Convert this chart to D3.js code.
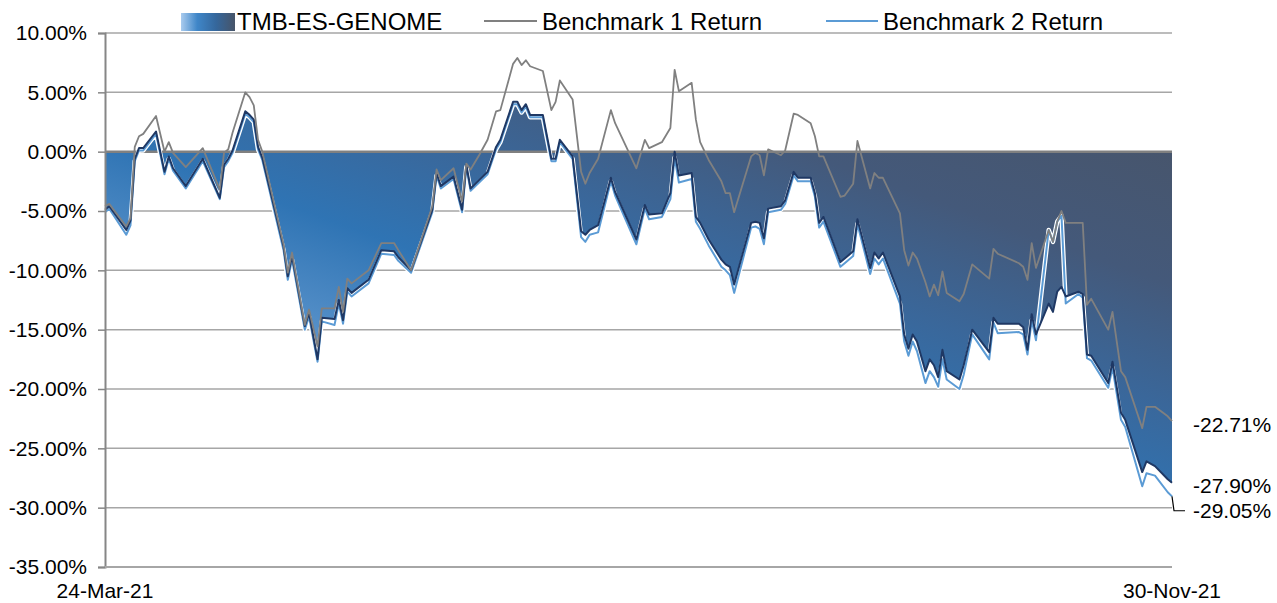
<!DOCTYPE html>
<html><head><meta charset="utf-8">
<script src="https://cdn.jsdelivr.net/npm/d3@7"></script>
<style>
body{margin:0;background:#fff}
svg{display:block}
text{font-family:"Liberation Sans",Arial,sans-serif;fill:#000}
</style>
</head><body>
<svg id="chart" width="1277" height="603"></svg>
<script>
const dates = ["2021-03-24","2021-03-25","2021-03-29","2021-03-30","2021-03-31","2021-04-01","2021-04-02","2021-04-05","2021-04-07","2021-04-08",
"2021-04-09","2021-04-12","2021-04-16","2021-04-20","2021-04-21","2021-04-22","2021-04-23","2021-04-26","2021-04-27","2021-04-28",
"2021-04-29","2021-04-30","2021-05-05","2021-05-06","2021-05-07","2021-05-10","2021-05-11","2021-05-13","2021-05-14","2021-05-17",
"2021-05-18","2021-05-19","2021-05-20","2021-05-21","2021-05-25","2021-05-28","2021-05-31","2021-06-01","2021-06-04","2021-06-09",
"2021-06-10","2021-06-11","2021-06-14","2021-06-16","2021-06-17","2021-06-18","2021-06-20","2021-06-22","2021-06-24","2021-06-25",
"2021-06-28","2021-06-29","2021-06-30","2021-07-01","2021-07-02","2021-07-05","2021-07-07","2021-07-08","2021-07-09","2021-07-12",
"2021-07-14","2021-07-15","2021-07-16","2021-07-18","2021-07-21","2021-07-22","2021-07-27","2021-07-29","2021-07-30","2021-08-02",
"2021-08-04","2021-08-05","2021-08-06","2021-08-09","2021-08-10","2021-08-11","2021-08-13","2021-08-16","2021-08-17","2021-08-18",
"2021-08-19","2021-08-23","2021-08-24","2021-08-25","2021-08-26","2021-08-27","2021-08-30","2021-08-31","2021-09-02","2021-09-03",
"2021-09-06","2021-09-07","2021-09-08","2021-09-09","2021-09-13","2021-09-14","2021-09-16","2021-09-17","2021-09-20","2021-09-21",
"2021-09-22","2021-09-23","2021-09-27","2021-09-28","2021-09-29","2021-09-30","2021-10-01","2021-10-03","2021-10-04","2021-10-05",
"2021-10-06","2021-10-07","2021-10-08","2021-10-11","2021-10-12","2021-10-14","2021-10-18","2021-10-19","2021-10-20","2021-10-25",
"2021-10-26","2021-10-27","2021-10-28","2021-10-29","2021-11-01","2021-11-02","2021-11-03","2021-11-04","2021-11-05","2021-11-08",
"2021-11-09","2021-11-10","2021-11-11","2021-11-15","2021-11-16","2021-11-18","2021-11-19","2021-11-23","2021-11-24","2021-11-26",
"2021-11-29","2021-11-30"];

const fund = [-4.9,-4.6,-6.6,-5.8,-0.6,0.3,0.3,1.7,-1.7,-0.4,
-1.4,-2.9,-0.6,-3.9,-1.1,-0.6,0.1,3.4,3.1,2.7,
0.4,-0.5,-8.0,-10.5,-8.8,-14.7,-13.6,-17.5,-14.0,-14.1,
-12.5,-14.2,-11.5,-11.9,-10.8,-8.3,-8.4,-8.9,-10.0,-4.9,
-1.8,-2.9,-2.1,-4.9,-1.1,-3.1,-2.4,-1.7,0.4,1.0,
4.2,4.2,3.5,4.0,3.1,3.1,-0.6,-0.6,1.0,-0.4,
-6.7,-7.0,-6.6,-6.2,-2.2,-3.4,-7.4,-4.5,-5.3,-5.2,
-3.5,0.0,-2.0,-1.8,-5.5,-6.0,-7.4,-9.1,-9.5,-9.7,
-11.2,-6.0,-5.9,-6.0,-7.3,-4.8,-4.6,-4.1,-1.7,-2.2,
-2.2,-3.5,-6.0,-5.5,-9.3,-9.0,-8.4,-5.7,-9.8,-8.5,
-9.0,-8.5,-12.2,-15.4,-16.6,-15.4,-16.0,-18.5,-17.5,-18.0,
-19.0,-16.7,-18.5,-19.2,-18.0,-15.0,-16.9,-14.0,-14.5,-14.5,
-14.8,-16.7,-13.7,-15.4,-12.8,-13.5,-11.8,-11.4,-12.2,-11.8,
-12.0,-17.1,-17.2,-19.5,-17.7,-22.0,-22.6,-27.0,-26.1,-26.5,
-27.6,-27.90];

const bench1 = [-4.6,-4.4,-6.3,-5.6,0.4,1.3,1.5,3.0,0.0,0.8,
-0.1,-1.3,0.3,-3.2,-0.1,0.2,1.6,5.0,4.6,3.9,
1.0,0.0,-7.8,-10.2,-8.5,-14.6,-13.3,-16.4,-13.2,-13.2,
-11.4,-13.5,-10.7,-11.1,-10.0,-7.7,-7.7,-8.3,-10.0,-4.6,
-1.5,-2.4,-1.4,-4.2,-1.0,-1.5,-0.3,1.0,3.4,3.5,
7.4,7.9,7.3,7.7,7.2,6.8,3.5,4.2,6.0,4.4,
-1.7,-2.7,-1.8,-0.6,3.5,2.4,-1.4,1.0,0.3,0.8,
2.0,6.9,5.1,5.8,2.7,0.8,-0.7,-2.5,-3.5,-3.5,
-5.1,-0.4,-0.1,-0.3,-2.0,0.2,-0.3,0.1,3.2,3.1,
2.4,1.3,-0.4,-0.4,-3.8,-3.7,-2.7,0.9,-3.1,-1.8,
-2.2,-2.2,-5.2,-8.3,-9.6,-8.5,-9.0,-11.0,-12.2,-11.2,
-12.1,-10.1,-11.9,-12.6,-12.0,-9.5,-10.7,-8.2,-8.6,-9.4,
-9.7,-10.8,-7.7,-9.8,-6.6,-7.6,-5.9,-5.0,-6.0,-6.0,
-6.0,-12.9,-12.4,-15.0,-13.5,-18.5,-19.0,-23.3,-21.5,-21.5,
-22.3,-22.71];

const bench2 = [-5.1,-4.8,-7.0,-6.2,-0.8,0.1,0.1,1.5,-1.9,-0.6,
-1.6,-3.1,-0.8,-4.0,-1.3,-0.8,-0.1,3.2,2.9,2.5,
0.2,-0.7,-8.3,-10.8,-9.1,-15.0,-13.9,-17.7,-14.3,-14.6,
-12.8,-14.5,-11.8,-12.2,-11.1,-8.6,-8.7,-9.2,-10.2,-5.1,
-2.0,-3.1,-2.3,-5.1,-1.3,-3.3,-2.6,-1.9,0.2,0.8,
4.0,4.0,3.3,3.8,2.9,2.9,-0.8,-0.8,0.8,-0.6,
-7.2,-7.6,-7.0,-6.8,-2.5,-3.7,-7.8,-4.8,-5.7,-5.5,
-4.0,-0.5,-2.6,-2.3,-5.9,-6.5,-7.9,-9.7,-10.0,-10.4,
-11.9,-6.4,-6.3,-6.5,-7.8,-5.1,-4.9,-4.4,-2.0,-2.5,
-2.5,-3.8,-6.4,-5.9,-9.7,-9.4,-8.8,-6.1,-10.3,-9.0,
-9.5,-9.0,-12.8,-16.0,-17.2,-16.0,-16.8,-19.5,-18.5,-19.0,
-19.8,-17.5,-19.2,-20.0,-18.8,-15.4,-17.5,-14.4,-15.3,-15.2,
-15.4,-17.1,-14.2,-15.9,-6.6,-7.6,-5.9,-5.4,-12.8,-12.0,
-12.3,-17.4,-17.6,-19.9,-18.2,-22.6,-23.2,-28.2,-27.1,-27.3,
-28.7,-29.05];

const seriesNames = ["TMB-ES-GENOME","Benchmark 1 Return","Benchmark 2 Return"];
const yTickValues = [10,5,0,-5,-10,-15,-20,-25,-30,-35];
const xTickLabels = ["24-Mar-21","30-Nov-21"];

const pct = v => (v < 0 ? "-" : "") + Math.abs(v).toFixed(2) + "%";

const svg = d3.select("#chart");
const L = 105, R = 1172, T = 33, B = 567;
const parse = d3.timeParse("%Y-%m-%d");
const dts = dates.map(parse);
const x = d3.scaleTime().domain([dts[0], dts[dts.length-1]]).range([L, R]);
const y = d3.scaleLinear().domain([-35, 10]).range([B, T]);

const defs = svg.append("defs");
const grad = defs.append("linearGradient").attr("id","fillGrad")
  .attr("x1",0).attr("y1",1).attr("x2",1).attr("y2",0);
[[0,"#a3c6ea"],[0.28,"#5a93cb"],[0.45,"#2f74b4"],[0.6,"#3a679a"],[0.76,"#44597a"],[1,"#485468"]]
  .forEach(([o,c]) => grad.append("stop").attr("offset",o).attr("stop-color",c));
const lgrad = defs.append("linearGradient").attr("id","legGrad")
  .attr("x1",0).attr("y1",0).attr("x2",1).attr("y2",0);
[[0,"#a9cbee"],[0.3,"#3f86c8"],[0.65,"#35679c"],[1,"#475468"]]
  .forEach(([o,c]) => lgrad.append("stop").attr("offset",o).attr("stop-color",c));

// gridlines
svg.append("g").selectAll("line").data(yTickValues.filter(v => v !== 0)).join("line")
  .attr("x1", L).attr("x2", R).attr("y1", d => y(d)).attr("y2", d => y(d))
  .attr("stroke", "#a6a6a6").attr("stroke-width", 1.5);

const pts = k => dts.map((d,i) => ({d, v: k[i]}));
const fundPts = pts(fund), b1Pts = pts(bench1), b2Pts = pts(bench2);

const area = d3.area().x(p => x(p.d)).y0(y(0)).y1(p => y(p.v));
svg.append("path").datum(fundPts).attr("d", area).attr("fill","url(#fillGrad)");

// zero line
svg.append("line").attr("x1",L).attr("x2",R).attr("y1",y(0)).attr("y2",y(0))
  .attr("stroke","#808080").attr("stroke-width",2.5);

const line = d3.line().x(p => x(p.d)).y(p => y(p.v));
svg.append("path").datum(b2Pts).attr("d", line).attr("fill","none")
  .attr("stroke","#ffffff").attr("stroke-width",4.5).attr("stroke-linejoin","round");
svg.append("path").datum(b2Pts).attr("d", line).attr("fill","none")
  .attr("stroke","#5b9bd5").attr("stroke-width",2).attr("stroke-linejoin","round");
svg.append("path").datum(fundPts).attr("d", line).attr("fill","none")
  .attr("stroke","#1f3864").attr("stroke-width",2).attr("stroke-linejoin","round");
svg.append("path").datum(b1Pts).attr("d", line).attr("fill","none")
  .attr("stroke","#808080").attr("stroke-width",1.8).attr("stroke-linejoin","round");

// y axis
const yAxis = d3.axisLeft(y).tickValues(yTickValues).tickSize(7).tickPadding(11).tickFormat(pct);
const ya = svg.append("g").attr("transform",`translate(${L},0)`).call(yAxis);
ya.select(".domain").attr("stroke","#868686").attr("stroke-width",2);
ya.selectAll(".tick line").attr("stroke","#868686").attr("stroke-width",1.5);
ya.selectAll(".tick text").attr("font-size",21).attr("font-family","Liberation Sans, Arial, sans-serif").attr("fill","#000");

// bottom axis line
svg.append("line").attr("x1",L).attr("x2",R).attr("y1",B).attr("y2",B)
  .attr("stroke","#a6a6a6").attr("stroke-width",2);

// x labels
svg.append("g").selectAll("text").data([dts[0], dts[dts.length-1]]).join("text")
  .attr("x", d => x(d)).attr("y", 598).attr("text-anchor","middle").attr("font-size",21)
  .text((d,i) => xTickLabels[i]);

// end labels
const last = dts.length - 1;
const ends = [fund[last], bench1[last], bench2[last]]
  .map(v => ({v, yv: y(v), ly: y(v) + 3}));
const sorted = [...ends].sort((a,b) => a.yv - b.yv);
for (let i = 1; i < sorted.length; i++) {
  if (sorted[i].ly < sorted[i-1].ly + 25) sorted[i].ly = sorted[i-1].ly + 25;
}
ends.forEach(e => {
  if (e.ly - e.yv > 8) {
    svg.append("path")
      .attr("d", `M${x(dts[last])},${e.yv}L${x(dts[last])+2},${e.ly}L${x(dts[last])+13},${e.ly}`)
      .attr("fill","none").attr("stroke","#000").attr("stroke-width",1.2);
  }
  svg.append("text").attr("x", R + 21).attr("y", e.ly).attr("dy","0.35em")
    .attr("font-size",21).text(pct(e.v));
});

// legend
const lg = svg.append("g");
lg.append("rect").attr("x",181).attr("y",13).attr("width",54).attr("height",18).attr("fill","url(#legGrad)");
lg.append("text").attr("x",237).attr("y",30).attr("font-size",24).text(seriesNames[0]);
lg.append("line").attr("x1",484).attr("x2",537).attr("y1",21).attr("y2",21).attr("stroke","#808080").attr("stroke-width",1.8);
lg.append("text").attr("x",542).attr("y",30).attr("font-size",24).text(seriesNames[1]);
lg.append("line").attr("x1",826).attr("x2",878).attr("y1",21).attr("y2",21).attr("stroke","#5b9bd5").attr("stroke-width",2);
lg.append("text").attr("x",883).attr("y",30).attr("font-size",24).text(seriesNames[2]);
</script>
</body></html>
